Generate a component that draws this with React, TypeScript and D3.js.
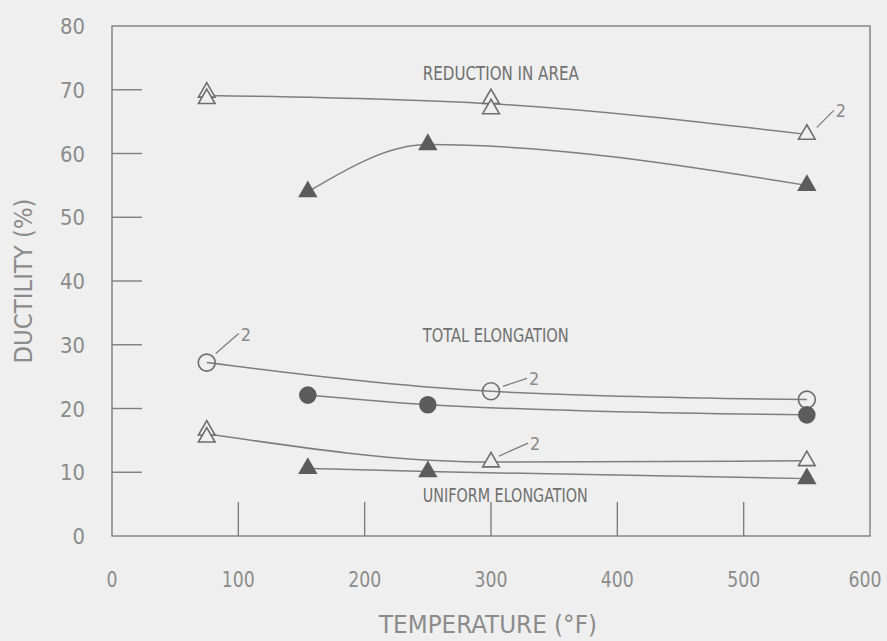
import React, { useEffect, useRef } from "react";
import * as d3 from "d3";

// --- data (temperature °F, ductility %) ---
const raOpenTemps = [75, 75, 300, 300, 550];
const raOpenVals = [69.6, 68.6, 68.6, 67.0, 63.0];
const raFilledTemps = [155, 250, 550];
const raFilledVals = [54.0, 61.4, 55.0];

const teOpenTemps = [75, 300, 550];
const teOpenVals = [27.2, 22.7, 21.4];
const teFilledTemps = [155, 250, 550];
const teFilledVals = [22.1, 20.6, 19.0];

const ueOpenTemps = [75, 75, 300, 550];
const ueOpenVals = [16.6, 15.5, 11.6, 11.8];
const ueFilledTemps = [155, 250, 550];
const ueFilledVals = [10.6, 10.1, 9.0];

const xTicks = [0, 100, 200, 300, 400, 500, 600];
const yTicks = [0, 10, 20, 30, 40, 50, 60, 70, 80];

const curveLabels = ["REDUCTION IN AREA", "TOTAL ELONGATION", "UNIFORM ELONGATION"];
const curveLabelAt = [[246, 71.5], [246, 30.5], [246, 5.4]];
const curveLabelLen = [156, 146, 165];

// points tagged "2" (two specimens)
const tagTemps = [550, 75, 300, 300];
const tagVals = [63.0, 27.2, 22.7, 11.6];
const tagLeader = [[10, -7, 27, -24], [9, -9, 32, -29], [12, -5, 36, -13], [8, -6, 37, -19]];

const LINE = "#7e7e7e";
const TEXT = "#8b8b8b";
const DARK = "#5c5c5c";
const FONT = "'DejaVu Sans Condensed', 'DejaVu Sans', sans-serif";

function zip(t: number[], v: number[]) {
  return t.map((d, i) => ({ t: d, v: v[i] }));
}

export default function App() {
  const svgRef = useRef<SVGSVGElement>(null);

  useEffect(() => {
    const width = 887;
    const height = 641;
    const svg = d3.select(svgRef.current).attr("width", width).attr("height", height);
    svg.selectAll("*").remove();

    svg.append("rect").attr("width", width).attr("height", height).attr("fill", "#efefef");

    const x = d3.scaleLinear().domain([0, 600]).range([112, 870]);
    const y = d3.scaleLinear().domain([0, 80]).range([536, 26]);

    // --- frame ---
    svg.append("rect")
      .attr("x", x(0)).attr("y", y(80))
      .attr("width", x(600) - x(0)).attr("height", y(0) - y(80))
      .attr("fill", "none").attr("stroke", LINE).attr("stroke-width", 1.4);

    // --- inward ticks ---
    svg.selectAll(".ytick")
      .data(yTicks.filter(d => d > 0 && d < 80))
      .join("line")
      .attr("x1", x(0)).attr("x2", x(0) + 30)
      .attr("y1", d => y(d)).attr("y2", d => y(d))
      .attr("stroke", LINE).attr("stroke-width", 1.4);

    svg.selectAll(".xtick")
      .data(xTicks.filter(d => d > 0 && d < 600))
      .join("line")
      .attr("x1", d => x(d)).attr("x2", d => x(d))
      .attr("y1", y(0)).attr("y2", y(0) - 34)
      .attr("stroke", LINE).attr("stroke-width", 1.4);

    // --- tick labels ---
    svg.selectAll(".ylab")
      .data(yTicks)
      .join("text")
      .attr("x", 85).attr("y", d => y(d) + 8)
      .attr("text-anchor", "end")
      .attr("font-family", FONT).attr("font-size", 22).attr("fill", TEXT)
      .attr("textLength", d => String(d).length * 12.5).attr("lengthAdjust", "spacingAndGlyphs")
      .text(d => d);

    svg.selectAll(".xlab")
      .data(xTicks)
      .join("text")
      .attr("x", d => Math.min(x(d), 865)).attr("y", 587)
      .attr("text-anchor", "middle")
      .attr("font-family", FONT).attr("font-size", 22).attr("fill", TEXT)
      .attr("textLength", d => String(d).length * 11).attr("lengthAdjust", "spacingAndGlyphs")
      .text(d => d);

    // --- axis titles ---
    svg.append("text")
      .attr("x", 488).attr("y", 633)
      .attr("text-anchor", "middle")
      .attr("font-family", FONT).attr("font-size", 24).attr("fill", TEXT)
      .attr("textLength", 218).attr("lengthAdjust", "spacingAndGlyphs")
      .text("TEMPERATURE (°F)");

    svg.append("text")
      .attr("transform", "translate(32,281) rotate(-90)")
      .attr("text-anchor", "middle")
      .attr("font-family", FONT).attr("font-size", 24).attr("fill", TEXT)
      .attr("textLength", 165).attr("lengthAdjust", "spacingAndGlyphs")
      .text("DUCTILITY (%)");

    // --- fitted curves through the mean at each temperature ---
    const line = d3.line<{ t: number; v: number }>()
      .x(d => x(d.t)).y(d => y(d.v))
      .curve(d3.curveMonotoneX);

    const means = (pts: { t: number; v: number }[]) =>
      Array.from(d3.rollup(pts, g => d3.mean(g, d => d.v) as number, d => d.t),
        ([t, v]) => ({ t, v })).sort((a, b) => a.t - b.t);

    const series = [
      { pts: zip(raOpenTemps, raOpenVals), shape: "tri", filled: false },
      { pts: zip(raFilledTemps, raFilledVals), shape: "tri", filled: true },
      { pts: zip(teOpenTemps, teOpenVals), shape: "circ", filled: false },
      { pts: zip(teFilledTemps, teFilledVals), shape: "circ", filled: true },
      { pts: zip(ueOpenTemps, ueOpenVals), shape: "tri", filled: false },
      { pts: zip(ueFilledTemps, ueFilledVals), shape: "tri", filled: true },
    ];

    series.forEach(s => {
      svg.append("path")
        .attr("d", line(means(s.pts)))
        .attr("fill", "none").attr("stroke", LINE).attr("stroke-width", 1.5);
    });

    // --- markers ---
    const tri = d3.symbol().type(d3.symbolTriangle).size(120);
    series.forEach(s => {
      const g = svg.append("g");
      if (s.shape === "tri") {
        g.selectAll("path")
          .data(s.pts)
          .join("path")
          .attr("transform", d => `translate(${x(d.t)},${y(d.v)})`)
          .attr("d", tri())
          .attr("fill", s.filled ? DARK : "#efefef")
          .attr("stroke", s.filled ? DARK : "#6e6e6e").attr("stroke-width", 1.6);
      } else {
        g.selectAll("circle")
          .data(s.pts)
          .join("circle")
          .attr("cx", d => x(d.t)).attr("cy", d => y(d.v))
          .attr("r", s.filled ? 8 : 8.5)
          .attr("fill", s.filled ? DARK : "none")
          .attr("stroke", s.filled ? DARK : "#6e6e6e").attr("stroke-width", 1.6);
      }
    });

    // --- curve labels ---
    curveLabels.forEach((lab, i) => {
      svg.append("text")
        .attr("x", x(curveLabelAt[i][0])).attr("y", y(curveLabelAt[i][1]))
        .attr("font-family", FONT).attr("font-size", 19).attr("fill", "#707070")
        .attr("textLength", curveLabelLen[i]).attr("lengthAdjust", "spacingAndGlyphs")
        .text(lab);
    });

    // --- "2" tags with leader lines ---
    tagTemps.forEach((t, i) => {
      const px = x(t), py = y(tagVals[i]);
      const [a, b, c, d] = tagLeader[i];
      svg.append("line")
        .attr("x1", px + a).attr("y1", py + b)
        .attr("x2", px + c).attr("y2", py + d)
        .attr("stroke", LINE).attr("stroke-width", 1.3);
      svg.append("text")
        .attr("x", px + c + 2).attr("y", py + d + 7)
        .attr("font-family", FONT).attr("font-size", 18).attr("fill", TEXT)
        .text("2");
    });
  }, []);

  return <svg ref={svgRef} style={{ position: "absolute", left: 0, top: 0 }}></svg>;
}
